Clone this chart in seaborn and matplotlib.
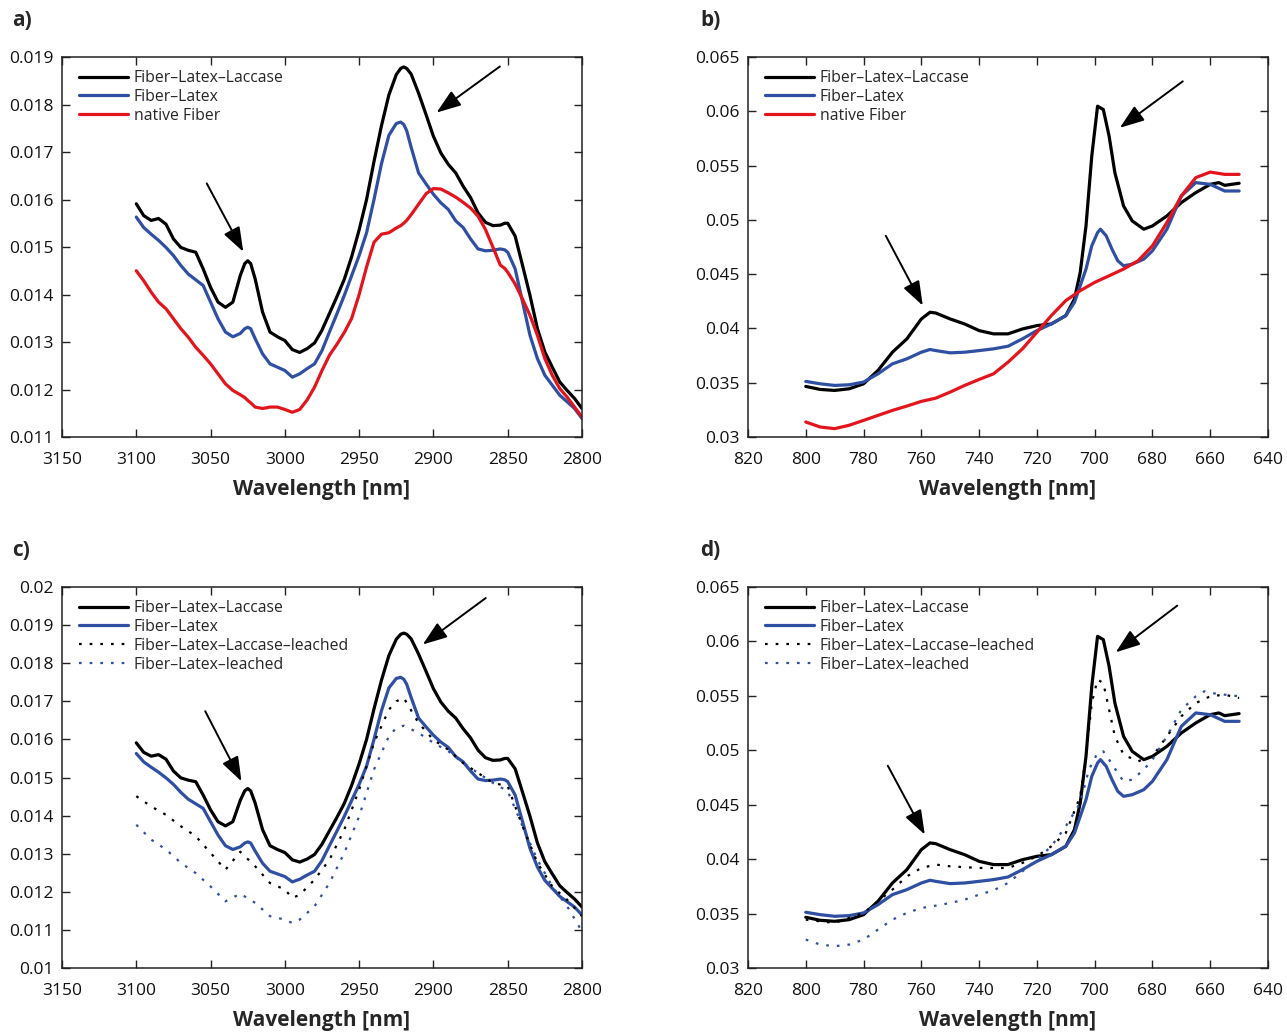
import numpy as np
import pandas as pd
import matplotlib
matplotlib.use("Agg")
import matplotlib.pyplot as plt
import seaborn as sns
from matplotlib.ticker import FuncFormatter, MultipleLocator

sns.set_style("ticks")
plt.rcParams['font.family'] = ['Open Sans', 'DejaVu Sans']

# ---------------- data: mid-IR (panels a, c) ----------------
ir_x = [3100, 3095, 3090, 3085, 3080, 3075, 3070, 3065, 3060, 3055, 3050, 3045, 3040, 3035,
        3030, 3027, 3025, 3023, 3020, 3015, 3010, 3005, 3000, 2995, 2990, 2985, 2980, 2975,
        2970, 2965, 2960, 2955, 2950, 2945, 2940, 2935, 2930, 2925, 2922, 2920, 2918, 2915,
        2910, 2905, 2900, 2895, 2890, 2885, 2880, 2875, 2870, 2865, 2860, 2855, 2852, 2850,
        2845, 2840, 2835, 2830, 2825, 2820, 2815, 2810, 2805, 2800]
ir_fll = [0.01591, 0.01566, 0.01556, 0.01560, 0.01548, 0.01517, 0.01499, 0.01493, 0.01489,
          0.01454, 0.01415, 0.01384, 0.01373, 0.01384, 0.01440, 0.01465, 0.01471, 0.01465,
          0.01433, 0.01363, 0.01321, 0.01311, 0.01303, 0.01284, 0.01278, 0.01286, 0.01298,
          0.01325, 0.01360, 0.01395, 0.01432, 0.01480, 0.01536, 0.01600, 0.01680, 0.01755,
          0.01820, 0.01863, 0.01876, 0.01879, 0.01876, 0.01864, 0.01824, 0.01779, 0.01733,
          0.01698, 0.01674, 0.01656, 0.01628, 0.01604, 0.01572, 0.01552, 0.01545, 0.01546,
          0.01550, 0.01550, 0.01523, 0.01461, 0.01398, 0.01328, 0.01279, 0.01247, 0.01216,
          0.01198, 0.01181, 0.01160]
ir_fl = [0.01563, 0.01541, 0.01527, 0.01514, 0.01499, 0.01482, 0.01461, 0.01443, 0.01431,
         0.01419, 0.01384, 0.01349, 0.01321, 0.01311, 0.01318, 0.01328, 0.01331, 0.01328,
         0.01307, 0.01275, 0.01254, 0.01247, 0.01240, 0.01226, 0.01233, 0.01244, 0.01254,
         0.01282, 0.01321, 0.01359, 0.01398, 0.01440, 0.01482, 0.01530, 0.01600, 0.01675,
         0.01735, 0.01760, 0.01763, 0.01758, 0.01745, 0.01710, 0.01656, 0.01633, 0.01611,
         0.01593, 0.01579, 0.01555, 0.01541, 0.01517, 0.01496, 0.01492, 0.01493, 0.01496,
         0.01494, 0.01489, 0.01454, 0.01384, 0.01314, 0.01265, 0.01230, 0.01209, 0.01188,
         0.01174, 0.01160, 0.01139]
ir_nat = [0.01450, 0.01429, 0.01405, 0.01384, 0.01370, 0.01349, 0.01328, 0.01310, 0.01289,
          0.01272, 0.01254, 0.01233, 0.01212, 0.01198, 0.01189, 0.01183, 0.01177, 0.01172,
          0.01163, 0.01160, 0.01163, 0.01163, 0.01158, 0.01152, 0.01158, 0.01178, 0.01205,
          0.01240, 0.01272, 0.01295, 0.01320, 0.01350, 0.01400, 0.01458, 0.01510, 0.01527,
          0.01530, 0.01540, 0.01545, 0.01550, 0.01556, 0.01568, 0.01590, 0.01612, 0.01623,
          0.01622, 0.01614, 0.01605, 0.01594, 0.01582, 0.01565, 0.01537, 0.01500, 0.01462,
          0.01455, 0.01447, 0.01422, 0.01390, 0.01356, 0.01314, 0.01265, 0.01230, 0.01202,
          0.01184, 0.01163, 0.01142]

irl_x = [3100, 3090, 3080, 3070, 3060, 3050, 3040, 3030, 3020, 3010, 3000, 2995, 2990, 2980,
         2970, 2960, 2950, 2940, 2930, 2925, 2920, 2910, 2900, 2890, 2880, 2870, 2860, 2850,
         2840, 2830, 2820, 2810, 2800]
irl_fll = [0.01451, 0.01424, 0.01402, 0.01372, 0.01346, 0.01302, 0.01258, 0.01305, 0.01267,
           0.01223, 0.01206, 0.01184, 0.01192, 0.01232, 0.01284, 0.01363, 0.01468, 0.01591,
           0.01678, 0.01700, 0.01709, 0.01643, 0.01599, 0.01573, 0.01538, 0.01512, 0.01486,
           0.01477, 0.01372, 0.01276, 0.01214, 0.01179, 0.01136]
irl_fl = [0.01376, 0.01337, 0.01311, 0.01276, 0.01249, 0.01214, 0.01175, 0.01195, 0.01171,
          0.01136, 0.01127, 0.01118, 0.01127, 0.01162, 0.01223, 0.01302, 0.01398, 0.01521,
          0.01608, 0.01630, 0.01636, 0.01617, 0.01591, 0.01569, 0.01538, 0.01512, 0.01486,
          0.01464, 0.01372, 0.01284, 0.01214, 0.01162, 0.01096]

# ---------------- data: VIS (panels b, d) ----------------
vis_fll_x = [800, 795, 790, 785, 780, 775, 770, 765, 760, 757, 755, 750, 745, 740, 735, 730,
             725, 720, 715, 710, 707, 705, 703, 701, 699, 697, 695, 693, 690, 687, 683, 680,
             675, 670, 665, 660, 657, 655, 650]
vis_fll = [0.03466, 0.03438, 0.03429, 0.03444, 0.03490, 0.03613, 0.03781, 0.03904, 0.04087,
           0.04149, 0.04142, 0.04087, 0.04041, 0.03980, 0.03950, 0.03950, 0.03995, 0.04026,
           0.04041, 0.04118, 0.04271, 0.04516, 0.04944, 0.05588, 0.06047, 0.06016, 0.05771,
           0.05434, 0.05128, 0.04990, 0.04914, 0.04944, 0.05036, 0.05159, 0.05251, 0.05327,
           0.05343, 0.05318, 0.05337]
vis_fl_x = [800, 795, 790, 785, 780, 775, 770, 765, 760, 757, 755, 750, 745, 740, 735, 730,
            725, 720, 715, 710, 707, 705, 703, 701, 699, 698, 696, 694, 692, 690, 687, 683,
            680, 675, 670, 665, 660, 655, 650]
vis_fl = [0.03512, 0.03490, 0.03475, 0.03481, 0.03506, 0.03582, 0.03674, 0.03720, 0.03781,
          0.03806, 0.03796, 0.03775, 0.03781, 0.03796, 0.03812, 0.03836, 0.03904, 0.03980,
          0.04041, 0.04118, 0.04240, 0.04393, 0.04547, 0.04761, 0.04883, 0.04914, 0.04853,
          0.04730, 0.04623, 0.04577, 0.04592, 0.04638, 0.04715, 0.04914, 0.05220, 0.05343,
          0.05327, 0.05266, 0.05266]
vis_nat_x = [800, 795, 790, 785, 780, 775, 770, 765, 760, 755, 750, 745, 740, 735, 730, 725,
             720, 715, 710, 705, 700, 695, 690, 685, 680, 675, 670, 665, 660, 655, 650]
vis_nat = [0.03138, 0.03092, 0.03077, 0.03108, 0.03153, 0.03199, 0.03245, 0.03285, 0.03328,
           0.03358, 0.03414, 0.03475, 0.03530, 0.03582, 0.03689, 0.03812, 0.03965, 0.04118,
           0.04256, 0.04348, 0.04424, 0.04485, 0.04547, 0.04623, 0.04761, 0.04975, 0.05220,
           0.05389, 0.05440, 0.05419, 0.05419]
visl_fll_x = [800, 790, 780, 770, 765, 760, 755, 750, 740, 730, 725, 720, 715, 710, 705, 703,
              701, 699, 697, 695, 693, 690, 685, 680, 675, 670, 665, 660, 655, 650]
visl_fll = [0.03444, 0.03414, 0.03506, 0.03720, 0.03842, 0.03919, 0.03950, 0.03934, 0.03919,
            0.03919, 0.03965, 0.04026, 0.04118, 0.04240, 0.04577, 0.04944, 0.05434, 0.05649,
            0.05618, 0.05373, 0.05128, 0.04960, 0.04899, 0.04944, 0.05128, 0.05312, 0.05434,
            0.05496, 0.05511, 0.05480]
visl_fl_x = [800, 795, 790, 785, 780, 775, 770, 765, 760, 755, 750, 745, 740, 735, 730, 725,
             720, 715, 710, 705, 702, 699, 697, 695, 692, 690, 687, 683, 680, 675, 670, 665,
             662, 660, 655, 650]
visl_fl = [0.03261, 0.03215, 0.03200, 0.03215, 0.03261, 0.03353, 0.03444, 0.03506, 0.03551,
           0.03573, 0.03597, 0.03628, 0.03674, 0.03713, 0.03781, 0.03888, 0.03995, 0.04118,
           0.04302, 0.04516, 0.04822, 0.04975, 0.04990, 0.04914, 0.04791, 0.04715, 0.04730,
           0.04822, 0.04914, 0.05128, 0.05373, 0.05496, 0.05542, 0.05527, 0.05511, 0.05496]

labels_ab = ["Fiber\u2013Latex\u2013Laccase", "Fiber\u2013Latex", "native Fiber"]
labels_cd = ["Fiber\u2013Latex\u2013Laccase", "Fiber\u2013Latex",
             "Fiber\u2013Latex\u2013Laccase\u2013leached", "Fiber\u2013Latex\u2013leached"]

BLACK = "#000000"
BLUE = "#2f4fa3"
RED = "#e3141b"
DOT = (0, (1.2, 3.6))

fig = plt.figure(figsize=(12.87, 10.34), dpi=100)
W, H = 1287, 1034


def axes_px(l, t, r, b):
    return fig.add_axes([l / W, 1 - b / H, (r - l) / W, (b - t) / H])


ax_a = axes_px(62, 57, 582, 437)
ax_b = axes_px(748, 57, 1268, 437)
ax_c = axes_px(62, 587, 582, 968)
ax_d = axes_px(748, 587, 1268, 968)


def draw(ax, x, y, color, ls, label, lw=2.3):
    df = pd.DataFrame({"x": x, "y": y})
    sns.lineplot(data=df, x="x", y="y", ax=ax, color=color, linestyle=ls,
                 linewidth=lw, label=label, sort=False, estimator=None)


# panel a
draw(ax_a, ir_x, ir_fll, BLACK, "-", labels_ab[0])
draw(ax_a, ir_x, ir_fl, BLUE, "-", labels_ab[1])
draw(ax_a, ir_x, ir_nat, RED, "-", labels_ab[2])
# panel b
draw(ax_b, vis_fll_x, vis_fll, BLACK, "-", labels_ab[0])
draw(ax_b, vis_fl_x, vis_fl, BLUE, "-", labels_ab[1])
draw(ax_b, vis_nat_x, vis_nat, RED, "-", labels_ab[2])
# panel c
draw(ax_c, ir_x, ir_fll, BLACK, "-", labels_cd[0])
draw(ax_c, ir_x, ir_fl, BLUE, "-", labels_cd[1])
draw(ax_c, irl_x, irl_fll, BLACK, DOT, labels_cd[2], lw=1.6)
draw(ax_c, irl_x, irl_fl, BLUE, DOT, labels_cd[3], lw=1.6)
# panel d
draw(ax_d, vis_fll_x, vis_fll, BLACK, "-", labels_cd[0])
draw(ax_d, vis_fl_x, vis_fl, BLUE, "-", labels_cd[1])
draw(ax_d, visl_fll_x, visl_fll, BLACK, DOT, labels_cd[2], lw=1.6)
draw(ax_d, visl_fl_x, visl_fl, BLUE, DOT, labels_cd[3], lw=1.6)

fmt = FuncFormatter(lambda v, p: "%g" % round(v, 4))

settings = [
    (ax_a, (3150, 2800), 50, (0.011, 0.019), 0.001),
    (ax_b, (820, 640), 20, (0.03, 0.065), 0.005),
    (ax_c, (3150, 2800), 50, (0.01, 0.02), 0.001),
    (ax_d, (820, 640), 20, (0.03, 0.065), 0.005),
]
for ax, xl, xs, yl, ys in settings:
    ax.set_xlim(*xl)
    ax.set_ylim(*yl)
    ax.xaxis.set_major_locator(MultipleLocator(xs))
    ax.yaxis.set_major_locator(MultipleLocator(ys))
    ax.yaxis.set_major_formatter(fmt)
    ax.xaxis.set_major_formatter(FuncFormatter(lambda v, p: "%d" % v))
    ax.tick_params(direction="in", length=6, width=1, top=True, right=True,
                   labelsize=12.5, colors="#222222", labelcolor="#111111")
    ax.tick_params(axis="x", pad=11)
    ax.tick_params(axis="y", pad=6)
    for s in ax.spines.values():
        s.set_visible(True)
        s.set_linewidth(1.1)
        s.set_color("#222222")
    ax.set_ylabel("")
    ax.set_xlabel("Wavelength [nm]", fontsize=15, fontweight="bold", labelpad=8)
    ax.legend(loc="upper left", frameon=False, fontsize=11.3, handlelength=3.1,
              handletextpad=0.38, labelspacing=0.18, borderaxespad=0.0,
              bbox_to_anchor=(0.021, 0.982))

arrow_kw = dict(arrowstyle="-|>,head_length=1.0,head_width=0.36", color="k",
                lw=1.4, mutation_scale=15, shrinkA=0, shrinkB=0)


def arrow(ax, tail, tip):
    ax.annotate("", xy=tip, xytext=tail, arrowprops=arrow_kw)


arrow(ax_a, (3052.6, 0.01634), (3028.0, 0.0149))
arrow(ax_a, (2855.3, 0.0188), (2897.9, 0.01783))
arrow(ax_b, (772.3, 0.04853), (759.5, 0.0421))
arrow(ax_b, (669.5, 0.06276), (691.3, 0.05848))
arrow(ax_c, (3053.6, 0.01674), (3029.2, 0.0149))
arrow(ax_c, (2864.8, 0.01971), (2907.2, 0.01849))
arrow(ax_d, (771.6, 0.04858), (758.8, 0.04225))
arrow(ax_d, (671.4, 0.06329), (692.7, 0.059))

for lbl, px, py in [("a)", 12, 20), ("b)", 700, 20), ("c)", 12, 550), ("d)", 700, 550)]:
    fig.text(px / W, 1 - py / H, lbl, fontsize=15, fontweight="bold", ha="left", va="center")

fig.savefig("out.png", dpi=100)
